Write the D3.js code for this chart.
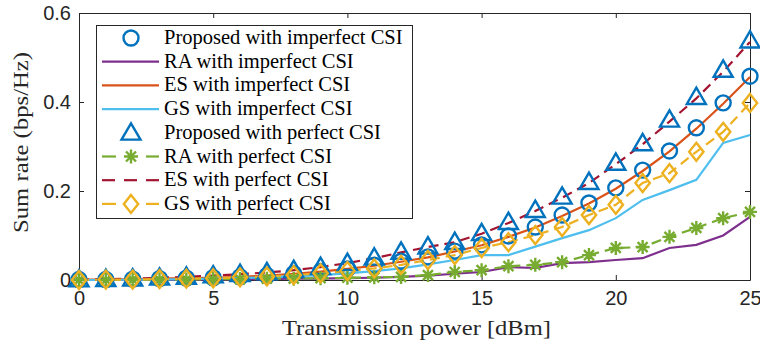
<!DOCTYPE html>
<html>
<head>
<meta charset="utf-8">
<style>
  body { margin: 0; background: #fff; }
  svg { display: block; }
</style>
<title>Sum rate vs transmission power</title>
</head>
<body>
<script src="https://cdn.jsdelivr.net/npm/d3@7"></script>
<script>
// data
var power = [0,1,2,3,4,5,6,7,8,9,10,11,12,13,14,15,16,17,18,19,20,21,22,23,24,25];
var propImperfect = [0.001,0.001,0.002,0.003,0.004,0.005,0.007,0.010,0.014,0.019,0.025,0.033,0.042,0.052,0.065,0.079,0.099,0.119,0.146,0.173,0.207,0.247,0.290,0.342,0.398,0.458];
var raImperfect = [0,0,0,0.001,0.001,0.001,0.002,0.002,0.003,0.003,0.004,0.005,0.007,0.010,0.014,0.018,0.029,0.027,0.038,0.040,0.045,0.049,0.072,0.079,0.100,0.142];
var esImperfect = [0.001,0.001,0.002,0.003,0.004,0.005,0.007,0.010,0.014,0.019,0.025,0.032,0.041,0.051,0.064,0.078,0.097,0.118,0.144,0.172,0.205,0.245,0.289,0.340,0.396,0.456];
var gsImperfect = [0,0,0.001,0.001,0.002,0.003,0.004,0.006,0.008,0.011,0.015,0.020,0.026,0.035,0.045,0.056,0.056,0.075,0.094,0.112,0.139,0.180,0.202,0.225,0.308,0.326];
var propPerfect = [0.001,0.002,0.003,0.005,0.007,0.010,0.013,0.017,0.022,0.029,0.038,0.050,0.063,0.075,0.085,0.105,0.130,0.157,0.187,0.220,0.263,0.307,0.360,0.411,0.472,0.538];
var raPerfect = [0,0,0.001,0.001,0.001,0.002,0.002,0.003,0.003,0.004,0.005,0.006,0.007,0.011,0.018,0.022,0.031,0.034,0.040,0.056,0.072,0.074,0.097,0.117,0.139,0.153];
var esPerfect = [0.001,0.002,0.003,0.005,0.007,0.010,0.013,0.017,0.022,0.029,0.038,0.049,0.062,0.074,0.085,0.104,0.128,0.155,0.185,0.218,0.260,0.305,0.356,0.408,0.468,0.535];
var gsPerfect = [0,0.001,0.001,0.002,0.003,0.004,0.006,0.008,0.011,0.015,0.020,0.026,0.034,0.045,0.056,0.072,0.085,0.101,0.119,0.146,0.169,0.218,0.240,0.288,0.333,0.398];

var xTicks = [0,5,10,15,20,25];
var yTicks = [0,0.2,0.4,0.6];

// series in legend order
var series = [
  {name: "Proposed with imperfect CSI", values: propImperfect, color: "#0072BD", line: false, marker: "circle"},
  {name: "RA with imperfect CSI", values: raImperfect, color: "#7E2F8E", line: "solid", marker: null},
  {name: "ES with imperfect CSI", values: esImperfect, color: "#D95319", line: "solid", marker: null},
  {name: "GS with imperfect CSI", values: gsImperfect, color: "#4DBEEE", line: "solid", marker: null},
  {name: "Proposed with perfect CSI", values: propPerfect, color: "#0072BD", line: false, marker: "triangle"},
  {name: "RA with perfect CSI", values: raPerfect, color: "#77AC30", line: "dash", marker: "asterisk"},
  {name: "ES with perfect CSI", values: esPerfect, color: "#A2142F", line: "dash", marker: null},
  {name: "GS with perfect CSI", values: gsPerfect, color: "#EDB120", line: "dash", marker: "diamond"}
];

(function () {
  var W = 760, H = 345;
  var plot = {left: 79, right: 750, top: 13, bottom: 280};

  var svg = d3.select("body").append("svg")
    .attr("width", W)
    .attr("height", H);

  var x = d3.scaleLinear().domain([0, 25]).range([plot.left, plot.right]);
  var y = d3.scaleLinear().domain([0, 0.6]).range([plot.bottom, plot.top]);

  var axisColor = "#262626";
  var sansFont = "'Liberation Sans', Arial, sans-serif";
  var serifFont = "'Liberation Serif', 'Times New Roman', serif";

  // axes (box with inward ticks)
  var xAxis = d3.axisBottom(x).tickValues(xTicks).tickSizeInner(-5).tickSizeOuter(0).tickPadding(11);
  var yAxis = d3.axisLeft(y).tickValues(yTicks).tickSizeInner(-5).tickSizeOuter(0).tickPadding(8)
    .tickFormat(function(d){ return d === 0 ? "0" : d3.format(".1f")(d); });

  var gx = svg.append("g").attr("transform", "translate(0," + plot.bottom + ")").call(xAxis);
  var gy = svg.append("g").attr("transform", "translate(" + plot.left + ",0)").call(yAxis);
  var gxt = svg.append("g").attr("transform", "translate(0," + plot.top + ")")
    .call(d3.axisTop(x).tickValues(xTicks).tickSizeInner(-5).tickSizeOuter(0).tickFormat(""));
  var gyr = svg.append("g").attr("transform", "translate(" + plot.right + ",0)")
    .call(d3.axisRight(y).tickValues(yTicks).tickSizeInner(-5).tickSizeOuter(0).tickFormat(""));

  [gx, gy, gxt, gyr].forEach(function(g){
    g.select(".domain").attr("stroke", axisColor).attr("stroke-width", 1);
    g.selectAll(".tick line").attr("stroke", axisColor);
    g.selectAll(".tick text").attr("fill", axisColor)
      .style("font-family", sansFont).style("font-size", "20px");
  });

  // lines
  var line = d3.line()
    .x(function(d, i){ return x(power[i]); })
    .y(function(d){ return y(d); });

  series.forEach(function(s){
    if (!s.line) return;
    svg.append("path")
      .attr("d", line(s.values))
      .attr("fill", "none")
      .attr("stroke", s.color)
      .attr("stroke-width", 2.2)
      .attr("stroke-dasharray", s.line === "dash" ? "10,6" : null);
  });

  // markers
  function drawMarker(g, type, cx, cy, color) {
    if (type === "circle") {
      g.append("circle").attr("cx", cx).attr("cy", cy).attr("r", 7.5)
        .attr("fill", "none").attr("stroke", color).attr("stroke-width", 2.4);
    } else if (type === "triangle") {
      var r = 9.5;
      g.append("path")
        .attr("d", "M" + cx + "," + (cy - r) + "L" + (cx + r) + "," + (cy + r * 0.72) + "L" + (cx - r) + "," + (cy + r * 0.72) + "Z")
        .attr("fill", "none").attr("stroke", color).attr("stroke-width", 2.4);
    } else if (type === "diamond") {
      var r2 = 9;
      g.append("path")
        .attr("d", "M" + cx + "," + (cy - r2) + "L" + (cx + r2 * 0.8) + "," + cy + "L" + cx + "," + (cy + r2) + "L" + (cx - r2 * 0.8) + "," + cy + "Z")
        .attr("fill", "none").attr("stroke", color).attr("stroke-width", 2.4);
    } else if (type === "asterisk") {
      var a = 7, b = 5;
      g.append("path")
        .attr("d", "M" + (cx - a) + "," + cy + "L" + (cx + a) + "," + cy +
                   "M" + cx + "," + (cy - a) + "L" + cx + "," + (cy + a) +
                   "M" + (cx - b) + "," + (cy - b) + "L" + (cx + b) + "," + (cy + b) +
                   "M" + (cx - b) + "," + (cy + b) + "L" + (cx + b) + "," + (cy - b))
        .attr("fill", "none").attr("stroke", color).attr("stroke-width", 2.4);
    }
  }

  series.forEach(function(s){
    if (!s.marker) return;
    var g = svg.append("g");
    s.values.forEach(function(v, i){
      drawMarker(g, s.marker, x(power[i]), y(v), s.color);
    });
  });

  // legend
  var lg = svg.append("g");
  lg.append("rect")
    .attr("x", 96.5).attr("y", 25.5)
    .attr("width", 316).attr("height", 193)
    .attr("fill", "#fff").attr("stroke", axisColor).attr("stroke-width", 1);

  series.forEach(function(s, i){
    var yy = 38 + i * 23.7;
    if (s.line === "solid") {
      lg.append("line")
        .attr("x1", 102).attr("x2", 159).attr("y1", yy).attr("y2", yy)
        .attr("stroke", s.color).attr("stroke-width", 2.2);
    } else if (s.line === "dash") {
      var segs = s.marker ? [[102, 116], [146, 159]] : [[102, 115], [124, 137], [146, 159]];
      segs.forEach(function(sg){
        lg.append("line")
          .attr("x1", sg[0]).attr("x2", sg[1]).attr("y1", yy).attr("y2", yy)
          .attr("stroke", s.color).attr("stroke-width", 2.2);
      });
    }
    if (s.marker) drawMarker(lg, s.marker, 131, yy, s.color);
    lg.append("text")
      .attr("x", 164).attr("y", yy + 6)
      .style("font-family", serifFont).style("font-size", "20.5px")
      .attr("fill", "#000")
      .text(s.name);
  });

  // axis titles
  svg.append("text")
    .attr("x", 282).attr("y", 335)
    .attr("textLength", 269).attr("lengthAdjust", "spacingAndGlyphs")
    .style("font-family", serifFont).style("font-size", "22px")
    .attr("fill", axisColor)
    .text("Transmission power [dBm]");

  svg.append("text")
    .attr("transform", "translate(28,233) rotate(-90)")
    .attr("textLength", 181).attr("lengthAdjust", "spacingAndGlyphs")
    .style("font-family", serifFont).style("font-size", "22px")
    .attr("fill", axisColor)
    .text("Sum rate (bps/Hz)");
})();
</script>
</body>
</html>
